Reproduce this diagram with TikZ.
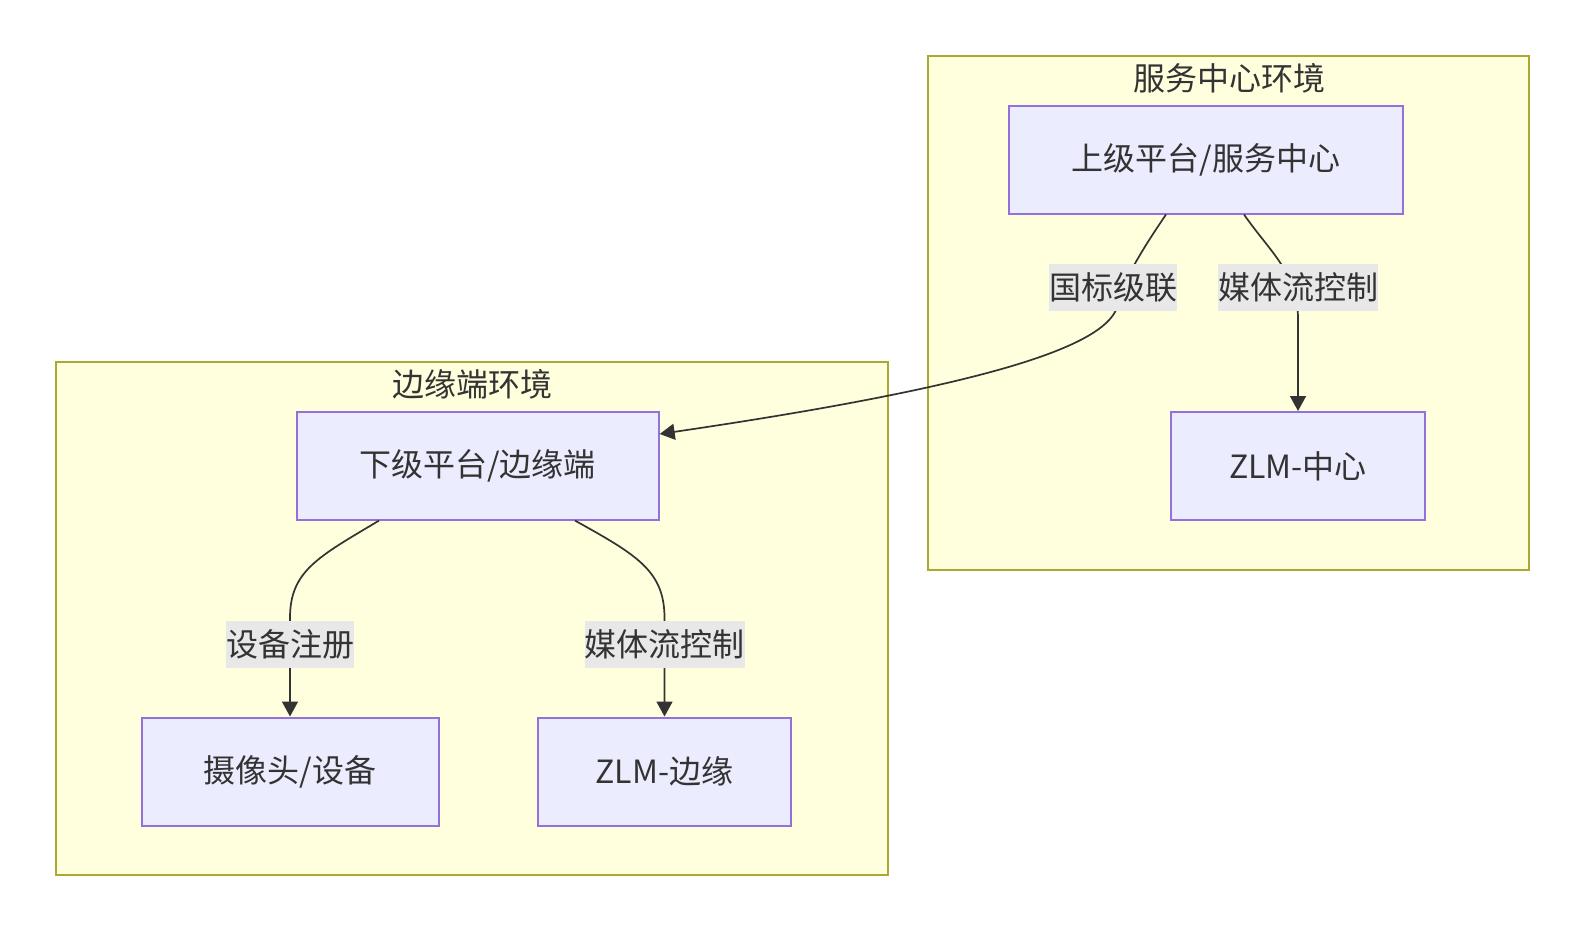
\documentclass[tikz,border=0pt]{standalone}
\usepackage{fontspec}
\setmainfont{Noto Sans CJK SC}
\usetikzlibrary{arrows.meta}
\definecolor{clfill}{HTML}{FFFFDE}
\definecolor{clline}{HTML}{AAAA33}
\definecolor{ndfill}{HTML}{ECECFF}
\definecolor{ndline}{HTML}{9370DB}
\definecolor{txt}{HTML}{333333}
\definecolor{lblbg}{HTML}{E8E8E8}
\begin{document}
\begin{tikzpicture}[x=1pt,y=-1pt,
  every node/.style={font=\fontsize{32}{38}\selectfont, text=txt},
  cluster/.style={draw=clline, fill=clfill, line width=2pt, inner sep=0pt},
  box/.style={draw=ndline, fill=ndfill, line width=2pt, minimum height=108pt, inner sep=0pt},
  elabel/.style={fill=lblbg, inner xsep=0pt, inner ysep=0pt, minimum height=47pt},
  ttl/.style={inner sep=0pt},
  arr/.style={draw=txt, line width=1.7pt, -{Triangle[length=15pt,width=16pt]}}]
\useasboundingbox (0,0) rectangle (1584,932);
% clusters
\node[cluster, minimum width=601pt, minimum height=514pt] (svc) at (1228.5,312.5) {};
\node[cluster, minimum width=832.5pt, minimum height=513pt] (edg) at (471.75,618) {};
\node[ttl] (svct) at (1229,78) {服务中心环境};
\node[ttl] (edgt) at (472,384) {边缘端环境};
% nodes
\node[box, minimum width=394pt] (up) at (1206,159.5) {上级平台/服务中心};
\node[box, minimum width=254pt] (zc) at (1298,466) {ZLM-中心};
\node[box, minimum width=362pt] (dn) at (477.7,465.6) {下级平台/边缘端};
\node[box, minimum width=297pt] (cam) at (290,771.5) {摄像头/设备};
\node[box, minimum width=253pt] (ze) at (664.5,771.5) {ZLM-边缘};
% label positions
\coordinate (l1) at (1113,287);
\coordinate (l2) at (1298,287);
\coordinate (l3) at (290,644);
\coordinate (l4) at (664.5,644);
% edges
\draw[arr] ([xshift=-40pt]up.south) .. controls (1148,241) and (1123,279) .. (1118,304)
  .. controls (1110,344) and (1000,384) .. ([yshift=31.6pt]dn.east);
\draw[arr] ([xshift=38pt]up.south) .. controls (1270,252) and (1298,273) .. (1298,319) -- (zc.north);
\draw[arr] ([xshift=-98.7pt]dn.south) .. controls (318,557) and (290,571) .. (290,618) -- (cam.north);
\draw[arr] ([xshift=97.3pt]dn.south) .. controls (637,555) and (664.5,571) .. (664.5,618) -- (ze.north);
% edge labels
\node[elabel] (lab1) at (l1) {国标级联};
\node[elabel] (lab2) at (l2) {媒体流控制};
\node[elabel] (lab3) at (l3) {设备注册};
\node[elabel] (lab4) at (l4) {媒体流控制};
\end{tikzpicture}
\end{document}
